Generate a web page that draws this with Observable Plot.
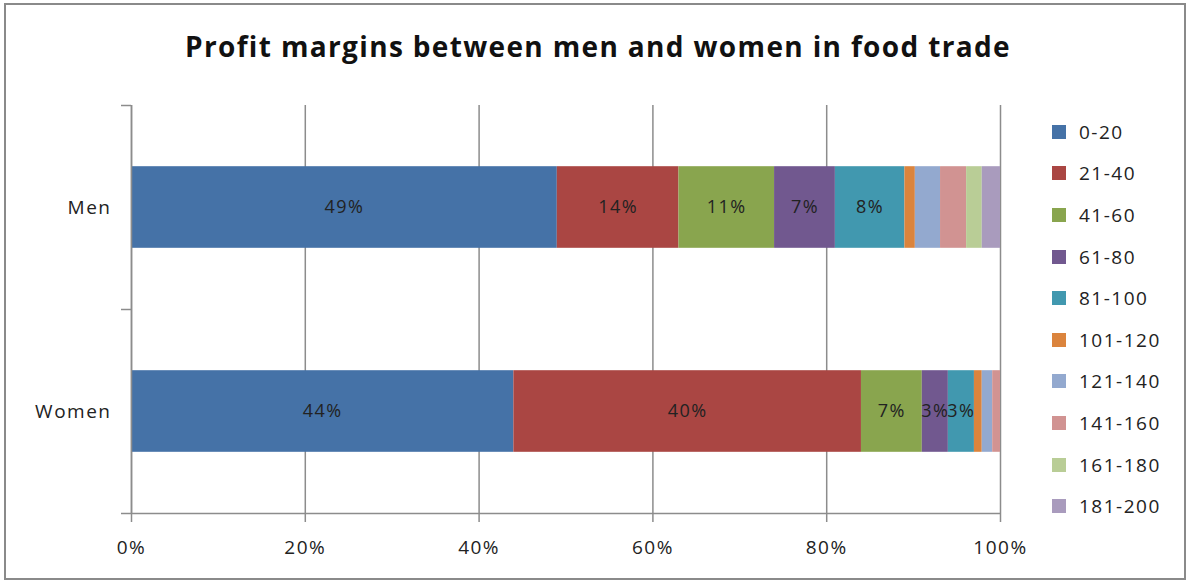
<!DOCTYPE html>
<html><head><meta charset="utf-8">
<script src="https://cdn.jsdelivr.net/npm/d3@7"></script>
<script src="https://cdn.jsdelivr.net/npm/@observablehq/plot@0.6"></script>
<style>
body{margin:0;background:#fff;font-family:"Open Sans",sans-serif;}
#wrap{position:relative;width:1190px;height:584px;overflow:hidden;}
#frame{position:absolute;left:4px;top:3px;width:1178px;height:573px;border:2px solid #8a8a8a;}
#title{position:absolute;left:0;top:27px;width:1196px;text-align:center;font-size:28px;font-weight:bold;color:#111;letter-spacing:1.35px;}
#chart{position:absolute;left:0;top:0;}
#legend{position:absolute;left:1052px;top:111px;}
.li{display:flex;align-items:center;height:41.6px;font-size:19px;color:#222;letter-spacing:1.5px;}
.sw{width:14px;height:14px;margin-right:13px;}
svg text{letter-spacing:1.5px;}
svg g[aria-label="segment labels"] text{letter-spacing:0px;}
</style></head>
<body><div id="wrap"><div id="frame"></div><div id="title">Profit margins between men and women in food trade</div><div id="chart"></div><div id="legend"></div></div>
<script>
const categories = ["Men", "Women"];
const series = ["0-20","21-40","41-60","61-80","81-100","101-120","121-140","141-160","161-180","181-200"];
const menValues =   [49, 14, 11, 7, 8, 1.2, 2.9, 3.0, 1.8, 2.1];
const womenValues = [44, 40, 7, 3, 3, 0.9, 1.2, 0.9, 0, 0];
const colors = ["#4572A7","#AA4643","#89A54E","#71588F","#4198AF","#DB843D","#93A9CF","#D19392","#B9CD96","#A99BBD"];
const xTicks = [0, 0.2, 0.4, 0.6, 0.8, 1];

const valuesByCat = {Men: menValues, Women: womenValues};
const rows = [];
categories.forEach((c, ci) => {
  const vals = valuesByCat[c];
  const total = d3.sum(vals);
  let acc = 0;
  const yc = categories.length - ci - 0.5;
  vals.forEach((v, si) => {
    const x1 = acc / total; acc += v; const x2 = acc / total;
    rows.push({cat: c, series: series[si], value: v, x1, x2, y1: yc - 0.2, y2: yc + 0.2, yc, si});
  });
});
const catRows = categories.map((c, ci) => ({cat: c, yc: categories.length - ci - 0.5}));

const chart = Plot.plot({
  width: 1190, height: 584,
  marginLeft: 131, marginRight: 190, marginTop: 105, marginBottom: 71,
  style: {fontFamily: "'Open Sans', sans-serif", fontSize: "19px", color: "#222", background: "transparent"},
  x: {domain: [0, 1]},
  y: {domain: [0, categories.length]},
  color: {domain: series, range: colors},
  marks: [
    Plot.gridX(xTicks, {stroke: "#8c8c8c", strokeOpacity: 1, strokeWidth: 1.5}),
    Plot.rectX(rows.filter(d => d.value > 0), {x1: "x1", x2: "x2", y1: "y1", y2: "y2", fill: "series"}),
    Plot.text(rows.filter(d => d.si < 5), {x: d => (d.x1 + d.x2) / 2, y: "yc", text: d => Math.round(d.value) + "%", fill: "#222", fontSize: 18, ariaLabel: "segment labels"}),
    Plot.ruleX([0], {stroke: "#8c8c8c", strokeWidth: 1.5}),
    Plot.ruleY([0], {stroke: "#8c8c8c", strokeWidth: 1.5}),
    Plot.axisY([0, 1, 2], {tickSize: 10, tickFormat: () => "", stroke: "#8c8c8c", strokeWidth: 1.5, label: null}),
    Plot.text(catRows, {x: 0, y: "yc", text: "cat", textAnchor: "end", dx: -20, fill: "#222", fontSize: 19}),
    Plot.axisX(xTicks, {tickSize: 9, tickPadding: 18, tickFormat: d3.format(".0%"), stroke: "#8c8c8c", strokeWidth: 1.5, label: null, fontSize: 19, fill: "#222"})
  ]
});
document.getElementById("chart").appendChild(chart);

const leg = document.getElementById("legend");
series.forEach((s, i) => {
  const row = document.createElement("div"); row.className = "li";
  const sw = document.createElement("div"); sw.className = "sw"; sw.style.background = colors[i];
  const t = document.createElement("span"); t.textContent = s;
  row.appendChild(sw); row.appendChild(t); leg.appendChild(row);
});
</script></body></html>
